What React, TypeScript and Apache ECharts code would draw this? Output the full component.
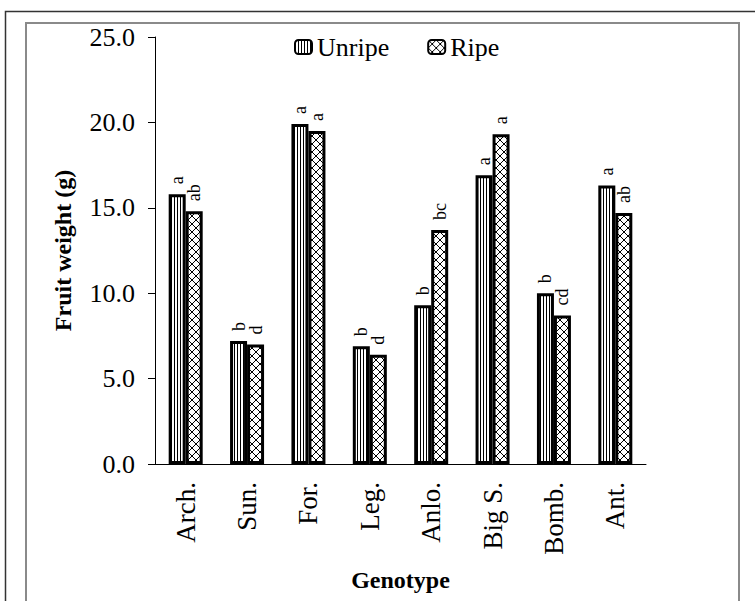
import React, { useEffect, useRef } from "react";
import * as echarts from "echarts";

const categories = ["Arch.", "Sun.", "For.", "Leg.", "Anlo.", "Big S.", "Bomb.", "Ant."];
const unripe = [15.8, 7.2, 19.9, 6.9, 9.3, 16.9, 10.0, 16.3];
const ripe = [14.8, 7.0, 19.5, 6.4, 13.7, 19.3, 8.7, 14.7];
const unripeLetters = ["a", "b", "a", "b", "b", "a", "b", "a"];
const ripeLetters = ["ab", "d", "a", "d", "bc", "a", "cd", "ab"];
const seriesNames = ["Unripe", "Ripe"];

const FONT = "'Liberation Serif', 'Times New Roman', serif";

function stripePattern(): any {
  const c = document.createElement("canvas");
  c.width = 3;
  c.height = 3;
  const ctx = c.getContext("2d")!;
  ctx.fillStyle = "#fff";
  ctx.fillRect(0, 0, 3, 3);
  ctx.fillStyle = "#000";
  ctx.fillRect(0, 0, 1, 3);
  return { image: c.toDataURL(), repeat: "repeat", imageWidth: 3, imageHeight: 3 };
}

function hatchPattern(): any {
  const s = 8;
  const c = document.createElement("canvas");
  c.width = s;
  c.height = s;
  const ctx = c.getContext("2d")!;
  ctx.fillStyle = "#fff";
  ctx.fillRect(0, 0, s, s);
  ctx.strokeStyle = "#000";
  ctx.lineWidth = 1;
  ctx.beginPath();
  ctx.moveTo(0, 0);
  ctx.lineTo(s, s);
  ctx.moveTo(s, 0);
  ctx.lineTo(0, s);
  ctx.stroke();
  return { image: c.toDataURL(), repeat: "repeat", imageWidth: s, imageHeight: s };
}

export default function App() {
  const ref = useRef<HTMLDivElement>(null);
  useEffect(() => {
    if (!ref.current) return;
    const chart = echarts.init(ref.current, null, { renderer: "svg" });
    const labelBase = {
      show: true,
      position: "top",
      rotate: 90,
      align: "left",
      verticalAlign: "middle",
      distance: 10,
      fontSize: 18,
      fontFamily: FONT,
      color: "#000",
    };
    chart.setOption({
      animation: false,
      backgroundColor: "#fff",
      textStyle: { fontFamily: FONT, color: "#000" },
      graphic: [
        {
          type: "rect",
          shape: { x: 5.5, y: 11.5, width: 900, height: 800 },
          style: { fill: "none", stroke: "#333", lineWidth: 1.5 },
          silent: true,
        },
        {
          type: "rect",
          shape: { x: 26, y: 23, width: 713, height: 800 },
          style: { fill: "none", stroke: "#8a8a8a", lineWidth: 2 },
          silent: true,
        },
      ],
      legend: {
        left: 289,
        top: 29,
        itemWidth: 17,
        itemHeight: 14,
        itemGap: 38,
        textStyle: { fontSize: 26, fontFamily: FONT, color: "#000" },
        data: seriesNames,
      },
      grid: { left: 155, right: 109, top: 37, bottom: 137 },
      xAxis: {
        type: "category",
        data: categories,
        name: "Genotype",
        nameLocation: "middle",
        nameGap: 104,
        nameTextStyle: { fontSize: 24, fontWeight: "bold", fontFamily: FONT, color: "#000" },
        axisLine: { lineStyle: { color: "#000", width: 1 } },
        axisTick: { show: false },
        axisLabel: { rotate: 90, margin: 18, fontSize: 27, fontFamily: FONT, color: "#000" },
      },
      yAxis: {
        type: "value",
        min: 0,
        max: 25,
        interval: 5,
        name: "Fruit weight (g)",
        nameLocation: "middle",
        nameGap: 80,
        nameTextStyle: { fontSize: 24, fontWeight: "bold", fontFamily: FONT, color: "#000" },
        axisLine: { show: true, lineStyle: { color: "#000", width: 1 } },
        axisTick: { show: true, length: 7, lineStyle: { color: "#000" } },
        splitLine: { show: false },
        axisLabel: {
          margin: 20,
          fontSize: 26,
          fontFamily: FONT,
          color: "#000",
          formatter: (v: number) => v.toFixed(1),
        },
      },
      series: [
        {
          name: seriesNames[0],
          type: "bar",
          data: unripe,
          barWidth: 17,
          barGap: "0%",
          itemStyle: { color: stripePattern(), borderColor: "#000", borderWidth: 3 },
          label: { ...labelBase, formatter: (p: any) => unripeLetters[p.dataIndex] },
        },
        {
          name: seriesNames[1],
          type: "bar",
          data: ripe,
          barWidth: 17,
          barGap: "0%",
          itemStyle: { color: hatchPattern(), borderColor: "#000", borderWidth: 3 },
          label: { ...labelBase, formatter: (p: any) => ripeLetters[p.dataIndex] },
        },
      ],
    });
    return () => chart.dispose();
  }, []);
  return (
    <div
      ref={ref}
      style={{ position: "absolute", left: 0, top: 0, width: 755, height: 601, background: "#fff" }}
    />
  );
}
